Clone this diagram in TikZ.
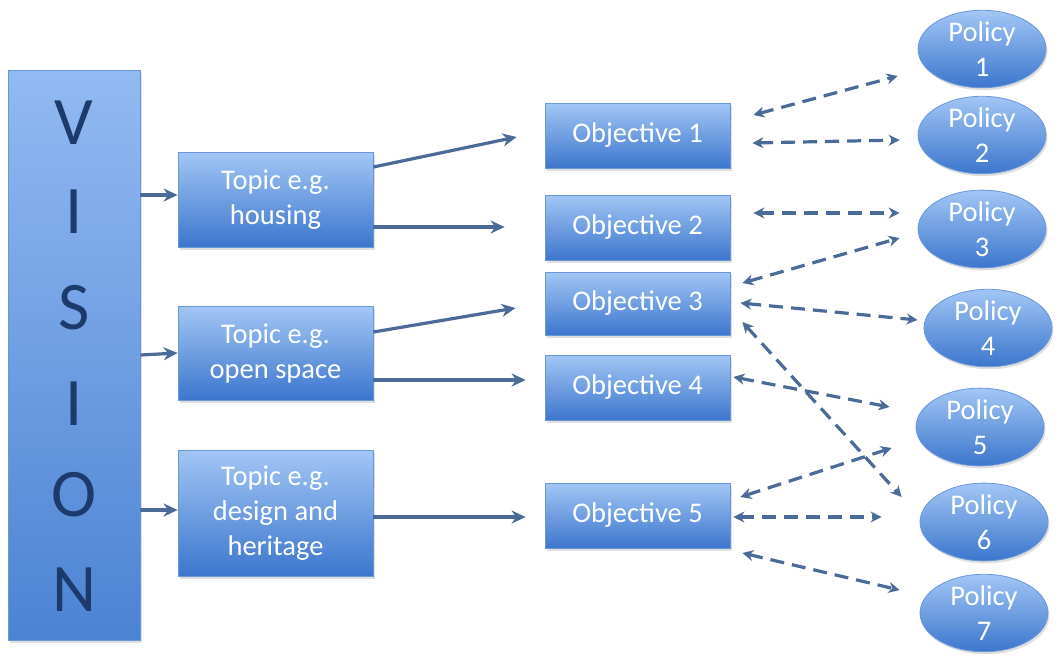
\documentclass[tikz,border=0pt]{standalone}
\usepackage{fontspec}
\setmainfont{Carlito}
\usetikzlibrary{arrows.meta,shapes.geometric,calc,shadows}

\definecolor{boxtop}{HTML}{A2C6F5}
\definecolor{boxbot}{HTML}{3C76CD}
\definecolor{vistop}{HTML}{92BAF2}
\definecolor{visbot}{HTML}{4C83D3}
\definecolor{edge}{HTML}{6A97D8}
\definecolor{arrowc}{HTML}{4A6A98}
\definecolor{navy}{HTML}{1C3A6B}

\newcommand\tbfont{\fontsize{28.5}{35}\selectfont}

\tikzset{
  shade/.style={drop shadow={shadow xshift=1.5pt,shadow yshift=-2.5pt,opacity=0.25}},
  visionbox/.style={rectangle,draw=edge,line width=0.8pt,top color=vistop,bottom color=visbot,
    minimum width=132pt,minimum height=570pt,inner sep=0pt,shade},
  topicbox/.style={rectangle,draw=edge,line width=0.8pt,top color=boxtop,bottom color=boxbot,
    minimum width=195pt,inner sep=0pt,text=white,font=\tbfont,align=center,shade},
  objbox/.style={rectangle,draw=edge,line width=0.8pt,top color=boxtop,bottom color=boxbot,
    minimum width=185pt,minimum height=65pt,inner sep=0pt,text=white,font=\tbfont,shade},
  policy/.style={ellipse,draw=edge,line width=0.8pt,top color=boxtop,bottom color=boxbot,
    minimum width=128pt,minimum height=77pt,inner sep=0pt,text=white,font=\tbfont,align=center,shade},
  letter/.style={text=navy,font=\fontsize{68}{68}\selectfont,inner sep=0pt},
  arr/.style={draw=arrowc,line width=3.2pt,-{Stealth[length=14pt,width=13pt]}},
  darr/.style={draw=arrowc,line width=3.2pt,dash pattern=on 14pt off 8pt,
    {Stealth[length=11pt,width=11pt]}-{Stealth[length=11pt,width=11pt]}}
}

\begin{document}
\begin{tikzpicture}[x=1pt,y=-1pt]
\useasboundingbox[fill=white] (0,0) rectangle (1062,654);

% vision column
\node[visionbox] (vision) at (74,355) {};
\foreach \ch/\yy [count=\k] in {V/123,I/212,S/308,I/404,O/495,N/590}
  \node[letter] (l\k) at (74,\yy) {\ch};

% topics
\node[topicbox,minimum height=95pt]  (t1) at (275.5,199.5) {Topic e.g.\\housing};
\node[topicbox,minimum height=94pt]  (t2) at (275.5,353)   {Topic e.g.\\open space};
\node[topicbox,minimum height=126pt] (t3) at (275.5,513)   {Topic e.g.\\design and\\heritage};

% objectives
\node[objbox] (o1) at (637.5,135.5) {Objective 1};
\node[objbox] (o2) at (637.5,227.5) {Objective 2};
\node[objbox,minimum height=63pt] (o3) at (637.5,303.5) {Objective 3};
\node[objbox] (o4) at (637.5,387.5) {Objective 4};
\node[objbox] (o5) at (637.5,515.5) {Objective 5};

% policies
\node[policy] (p1) at (982,49)  {Policy\\1};
\node[policy] (p2) at (982,135) {Policy\\2};
\node[policy] (p3) at (982,229) {Policy\\3};
\node[policy] (p4) at (988,328) {Policy\\4};
\node[policy] (p5) at (980,427) {Policy\\5};
\node[policy] (p6) at (984,522) {Policy\\6};
\node[policy] (p7) at (984,613) {Policy\\7};

% vision to topics
\draw[arr] ($(vision.east)+(0,-160)$) -- ($(t1.west)+(0,-4.5)$);
\draw[arr] (vision.east) -- (t2.west);
\draw[arr] ($(vision.east)+(0,155)$) -- ($(t3.west)+(0,-3)$);

% topics to objectives
\draw[arr] ($(t1.east)+(0,-32.5)$) -- ($(o1.west)+(-28,1.5)$);
\draw[arr] ($(t1.east)+(0,27.5)$)  -- ($(o2.west)+(-40,-0.5)$);
\draw[arr] ($(t2.east)+(0,-21)$)   -- ($(o3.west)+(-29,4.5)$);
\draw[arr] ($(t2.east)+(0,27)$)    -- ($(o4.west)+(-19,-7.5)$);
\draw[arr] ($(t3.east)+(0,4)$)     -- ($(o5.west)+(-19,1.5)$);

% objectives to policies
\draw[darr] ($(o1.east)+(23,-20.5)$) -- ($(p1.west)+(-20,27)$);
\draw[darr] ($(o1.east)+(22,7.5)$)   -- ($(p2.west)+(-18,5)$);
\draw[darr] ($(o2.east)+(23,-14.5)$) -- ($(p3.west)+(-18,-16)$);
\draw[darr] ($(o3.east)+(12,-20.5)$) -- ($(p3.west)+(-18,9)$);
\draw[darr] ($(o3.east)+(10,-0.5)$)  -- ($(p4.west)+(-6,-8)$);
\draw[darr] ($(o3.east)+(12,18.5)$)  -- ($(p6.west)+(-18,-25)$);
\draw[darr] ($(o4.east)+(3,-10.5)$)  -- ($(p5.west)+(-26,-20)$);
\draw[darr] ($(o5.east)+(10,-18.5)$) -- ($(p5.west)+(-24,21)$);
\draw[darr] ($(o5.east)+(3,1.5)$)    -- ($(p6.west)+(-38,-5)$);
\draw[darr] ($(o5.east)+(12,37.5)$)  -- ($(p7.west)+(-20,-23)$);
\end{tikzpicture}
\end{document}
